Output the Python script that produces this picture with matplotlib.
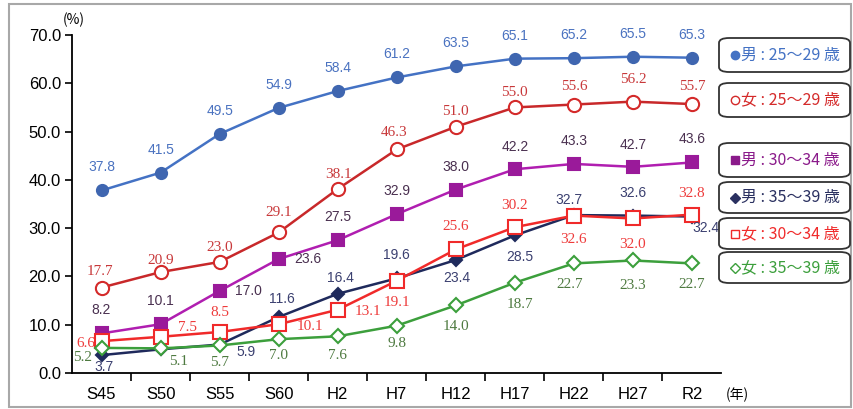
import matplotlib
matplotlib.use("Agg")
import matplotlib.pyplot as plt
from matplotlib.patches import FancyBboxPatch, Rectangle
from matplotlib.lines import Line2D

plt.rcParams['font.family'] = ['Liberation Sans', 'Noto Sans CJK JP', 'DejaVu Sans']

categories = ["S45", "S50", "S55", "S60", "H2", "H7", "H12", "H17", "H22", "H27", "R2"]

m_25_29 = [37.8, 41.5, 49.5, 54.9, 58.4, 61.2, 63.5, 65.1, 65.2, 65.5, 65.3]
f_25_29 = [17.7, 20.9, 23.0, 29.1, 38.1, 46.3, 51.0, 55.0, 55.6, 56.2, 55.7]
m_30_34 = [8.2, 10.1, 17.0, 23.6, 27.5, 32.9, 38.0, 42.2, 43.3, 42.7, 43.6]
m_35_39 = [3.7, 4.9, 5.9, 11.6, 16.4, 19.6, 23.4, 28.5, 32.7, 32.6, 32.4]
f_30_34 = [6.6, 7.5, 8.5, 10.1, 13.1, 19.1, 25.6, 30.2, 32.6, 32.0, 32.8]
f_35_39 = [5.2, 5.1, 5.7, 7.0, 7.6, 9.8, 14.0, 18.7, 22.7, 23.3, 22.7]

legend_labels = ["男 : 25～29 歳", "女 : 25～29 歳", "男 : 30～34 歳",
                 "男 : 35～39 歳", "女 : 30～34 歳", "女 : 35～39 歳"]
yticks = [0, 10, 20, 30, 40, 50, 60, 70]

# label offsets in pixels (dx, dy), dy positive = up; None = no label
off_m2529 = [(0, 23)] * 11
off_f2529 = [(-2, 16), (0, 12), (0, 14), (0, 20), (1, 15), (-3, 17), (0, 15), (0, 15), (0, 18), (0, 22), (0, 18)]
off_m3034 = [(0, 23), (0, 23), (29, 0), (29, 0), (0, 23), (0, 23), (0, 23), (0, 22), (0, 23), (0, 22), (0, 23)]
off_m3539 = [(3, -12), None, (26, -7), (3, 18), (3, 16), (0, 23), (1, -18), (5, -22), (-5, 15), (0, 23), (14, -11)]
off_f3034 = [(-16, -2), (27, 9), (0, 19), (31, -2), (30, -2), (0, -22), (0, 23), (0, 22), (0, -24), (0, -26), (0, 21)]
off_f3539 = [(-19, -10), (18, -13), (0, -17), (0, -16), (0, -19), (0, -18), (0, -21), (5, -22), (-4, -21), (0, -25), (0, -21)]

series = [
    dict(v=m_25_29, off=off_m2529, color="#4472C4", lc="#4A72C0", marker="o", ms=8, mfc="#3F66B0", mec="#3F66B0", serif=False),
    dict(v=f_25_29, off=off_f2529, color="#C8282A", lc="#C8383A", marker="o", ms=9.5, mfc="white", mec="#D42A2A", serif=True),
    dict(v=m_30_34, off=off_m3034, color="#B01EB0", lc="#4A3050", marker="s", ms=9, mfc="#9A1A9A", mec="#9A1A9A", serif=False),
    dict(v=m_35_39, off=off_m3539, color="#1F2A5C", lc="#3B4070", marker="D", ms=6.5, mfc="#1F2A5C", mec="#1F2A5C", serif=False),
    dict(v=f_30_34, off=off_f3034, color="#F02A2A", lc="#EE3B3B", marker="s", ms=9.5, mfc="white", mec="#F02A2A", serif=True),
    dict(v=f_35_39, off=off_f3539, color="#3C9F3C", lc="#4E7A40", marker="D", ms=7, mfc="white", mec="#3C9F3C", serif=True),
]
legend_text_colors = ["#4472C4", "#D42A2A", "#8A1A8A", "#2A3060", "#F02A2A", "#3C9F3C"]
legend_markers = [("o", 6, "#4472C4", "#4472C4"), ("o", 6, "white", "#D42A2A"),
                  ("s", 6, "#8A1A8A", "#8A1A8A"), ("D", 5, "#2A3060", "#2A3060"),
                  ("s", 6, "white", "#F02A2A"), ("D", 5, "white", "#3C9F3C")]

fig = plt.figure(figsize=(8.54, 4.09), dpi=100)
ax = fig.add_axes([72 / 854, 36 / 409, (721.5 - 72) / 854, (373 - 35) / 409])

x = list(range(len(categories)))
for s in series:
    ax.plot(x, s["v"], color=s["color"], lw=1.8, marker=s["marker"], ms=s["ms"],
            mfc=s["mfc"], mec=s["mec"], mew=1.5, zorder=3)
for s in series:
    fam = ["Liberation Serif"] if s["serif"] else ["Liberation Sans"]
    fs = 11 if s["serif"] else 10
    for i, (val, off) in enumerate(zip(s["v"], s["off"])):
        if off is None:
            continue
        ax.annotate(f"{val:.1f}", (i, val), xytext=off, textcoords="offset pixels",
                    ha="center", va="center", color=s["lc"], fontsize=fs,
                    family=fam, zorder=5, annotation_clip=False)

ax.set_xlim(-0.5, len(categories) - 0.5)
ax.set_ylim(0, 70)
ax.set_yticks(yticks)
ax.set_yticklabels([f"{t:.1f}" for t in yticks], fontsize=12)
ax.set_xticks(x)
ax.set_xticklabels(categories, fontsize=12)
ax.set_xticks([i + 0.5 for i in range(len(categories) - 1)], minor=True)
ax.tick_params(axis="x", which="major", length=0, pad=10)
ax.tick_params(axis="x", which="minor", length=6, direction="out", width=1.2)
ax.tick_params(axis="y", length=5, width=1.2, direction="out", pad=3)
for sp in ["top", "right"]:
    ax.spines[sp].set_visible(False)
for sp in ["left", "bottom"]:
    ax.spines[sp].set_linewidth(1.3)

fig.text(74 / 854, 1 - 20 / 409, "(%)", fontsize=10, ha="center", va="center",
         family=["Noto Sans CJK JP"])
fig.text(737 / 854, 1 - 395 / 409, "(年)", fontsize=10, ha="center", va="center",
         family=["Noto Sans CJK JP"])

# outer frame
fig.patches.append(Rectangle((9 / 854, 2 / 409), 842 / 854, 403 / 409, transform=fig.transFigure,
                             fill=False, edgecolor="#A8A8A8", lw=1.5))

# legend boxes
boxes = [(38, 72), (83, 117), (143, 177), (182, 213), (218, 249), (252, 283)]
for (y0, y1), lab, col, mk in zip(boxes, legend_labels, legend_text_colors, legend_markers):
    x0, x1 = 719, 850
    fb = FancyBboxPatch((x0 / 854, 1 - y1 / 409), (x1 - x0) / 854, (y1 - y0) / 409,
                        boxstyle="round,pad=0,rounding_size=0.012", transform=fig.transFigure,
                        fill=True, facecolor="white", edgecolor="#333333", lw=1.3)
    fig.patches.append(fb)
    yc = 1 - (y0 + y1) / 2 / 409
    fig.add_artist(Line2D([735 / 854], [yc], marker=mk[0], ms=mk[1], mfc=mk[2], mec=mk[3],
                          mew=1.0, linestyle="none", transform=fig.transFigure))
    fig.text(741 / 854, yc, lab, color=col, fontsize=11.5,
             ha="left", va="center", family=["Noto Sans CJK JP", "DejaVu Sans"])

fig.savefig("out.png", dpi=100)
